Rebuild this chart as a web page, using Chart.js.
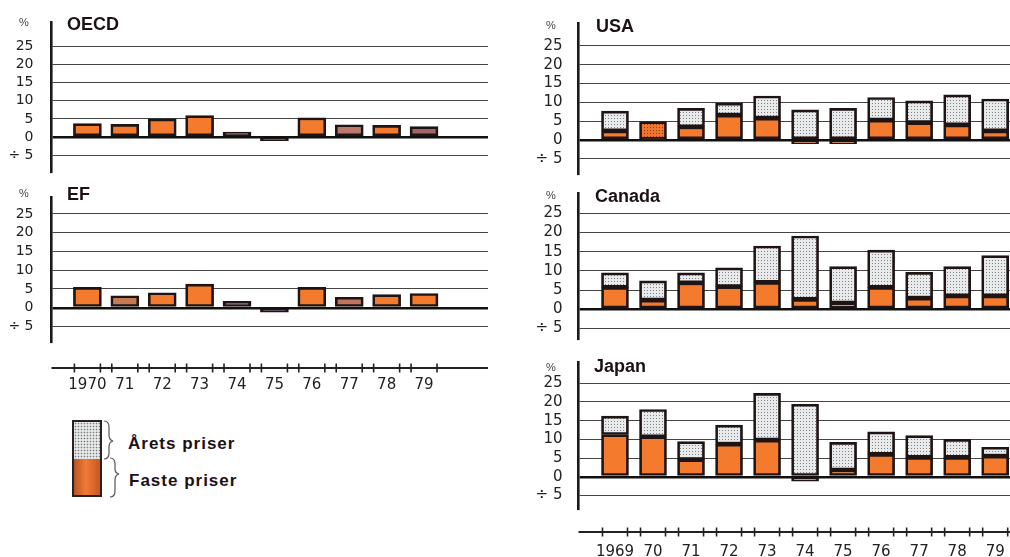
<!DOCTYPE html>
<html><head><meta charset="utf-8">
<script src="https://cdn.jsdelivr.net/npm/chart.js@4.4.1/dist/chart.umd.min.js"></script>
<style>
html,body{margin:0;padding:0;background:#fff}
body{position:relative;width:1010px;height:557px;overflow:hidden;font-family:"Liberation Sans",Arial,sans-serif}
canvas{position:absolute}
.t{position:absolute;font-weight:bold;font-size:18px;line-height:18px;color:#1c1216;white-space:nowrap}
.p{position:absolute;font-family:"Liberation Sans",Arial,sans-serif;font-size:11px;line-height:11px;color:#444;transform:translate(-50%,-50%)}
.lg{position:absolute;font-weight:bold;font-size:17px;line-height:17px;letter-spacing:1px;color:#1c1216;white-space:nowrap}
#sw{position:absolute;left:72px;top:420px;width:26px;height:73px;border:2px solid #2a2020}
#swTop{height:37px;background-color:#e8eaea;background-image:radial-gradient(circle,#7c7c7c 0.7px,transparent 1.1px);background-size:3px 3px}
#swBot{height:36px;background:linear-gradient(to right,#b85424,#f07a38 45%,#e06a2c 70%,#c05a28)}
</style></head><body>
<canvas id="cOECD"></canvas>
<canvas id="cEF"></canvas>
<canvas id="cUSA"></canvas>
<canvas id="cCAN"></canvas>
<canvas id="cJAP"></canvas>

<div class="t" style="left:67px;top:15px">OECD</div>
<div class="t" style="left:67px;top:185px">EF</div>
<div class="t" style="left:596px;top:17px">USA</div>
<div class="t" style="left:595px;top:187px">Canada</div>
<div class="t" style="left:594px;top:357px">Japan</div>

<div class="p" style="left:24px;top:22px">%</div>
<div class="p" style="left:24px;top:193px">%</div>
<div class="p" style="left:551px;top:25px">%</div>
<div class="p" style="left:551px;top:195px">%</div>
<div class="p" style="left:551px;top:367px">%</div>

<div id="sw"><div id="swTop"></div><div id="swBot"></div></div>
<svg style="position:absolute;left:100px;top:415px" width="24" height="90">
  <path d="M4,6 Q9,6 9,12 L9,20 Q9,25 13,26 Q9,27 9,32 L9,38 Q9,44 4,44" fill="none" stroke="#555" stroke-width="1.2"/>
  <path d="M10,43 Q15,43 15,49 L15,54 Q15,58 19,59 Q15,60 15,65 L15,76 Q15,82 10,82" fill="none" stroke="#555" stroke-width="1.2"/>
</svg>
<div class="lg" style="left:128px;top:435px">Årets priser</div>
<div class="lg" style="left:129px;top:472px">Faste priser</div>

<script>
// ---- data ----
const yearsLeft = [1970,1971,1972,1973,1974,1975,1976,1977,1978,1979];
const yearsRight = [1969,1970,1971,1972,1973,1974,1975,1976,1977,1978,1979];
const tickLabelsLeft = ['1970','71','72','73','74','75','76','77','78','79'];
const tickLabelsRight = ['1969','70','71','72','73','74','75','76','77','78','79'];
const yTickValues = [-5,0,5,10,15,20,25];
const yTickLabels = ['÷ 5','0','5','10','15','20','25'];

const oecdFaste = [3.7,3.5,5.0,5.9,1.4,-1.0,5.3,3.4,3.2,2.9];
const efFaste   = [5.4,3.2,4.0,6.3,1.7,-1.2,5.4,2.8,3.5,3.8];

const usaFaste = [2.4,0.2,3.5,6.6,5.8,-1.0,-1.0,5.3,4.6,4.0,2.4];
const usaArets = [7.7,4.9,8.4,9.8,11.7,8.0,8.4,11.3,10.4,12.0,10.9];
const canFaste = [5.7,2.4,6.9,5.9,7.0,2.6,1.6,5.7,2.9,3.5,3.5];
const canArets = [9.5,7.4,9.5,10.8,16.5,19.1,11.1,15.4,9.6,11.1,14.0];
const japFaste = [11.3,10.7,4.6,8.7,9.8,-1.2,1.8,6.0,5.2,5.2,5.5];
const japArets = [16.2,18.0,9.4,13.8,22.3,19.4,9.2,12.0,11.0,10.0,7.9];

// ---- styles ----
const ORANGE = '#f47b2e';
function dotPattern(bg, dot){
  const c=document.createElement('canvas'); c.width=3; c.height=3;
  const x=c.getContext('2d'); x.fillStyle=bg; x.fillRect(0,0,3,3);
  x.fillStyle=dot; x.fillRect(1,1,1,1);
  return x.createPattern(c,'repeat');
}
const DOTS = dotPattern('#e8eaeb','#7e8080');
const ODOTS = dotPattern('#ee7430','#8a3c20');
const oecdFill = [ORANGE,ORANGE,ORANGE,ORANGE,'#5e2430','#472a3c',ORANGE,'#b97a6c',ORANGE,'#a3646a'];
const efFill   = [ORANGE,'#c77a56',ORANGE,ORANGE,'#6e3a3a','#3e2c48',ORANGE,'#c0745e',ORANGE,ORANGE];
const usaAretsFill = yearsRight.map(y => y===1970 ? ODOTS : DOTS);

Chart.defaults.font.family = '"DejaVu Sans", sans-serif';

const panels = [
  {id:'cOECD', left:0, top:0, w:500, h:186, areaLeft:51.5, areaTop:22, areaBottom:173, areaRight:488,
   yMin:-9.9, yMax:31.7, xMin:1969.04, xMax:1980.71, years:yearsLeft, faste:oecdFaste, fasteFill:oecdFill,
   arets:null, barW:28, xLabels:null, fs:14, yPad:18},
  {id:'cEF', left:0, top:180, w:500, h:220, areaLeft:51.5, areaTop:197, areaBottom:343, areaRight:488,
   yMin:-9.4, yMax:29.5, xMin:1969.04, xMax:1980.71, years:yearsLeft, faste:efFaste, fasteFill:efFill,
   arets:null, barW:28, xLabels:tickLabelsLeft, fs:14, yPad:18, stripY:368, xPad:33},
  {id:'cUSA', left:520, top:0, w:490, h:188, areaLeft:578.5, areaTop:23, areaBottom:175, areaRight:1010,
   yMin:-9.3, yMax:31.1, xMin:1968.04, xMax:1979.39, years:yearsRight, faste:usaFaste, fasteFill:ORANGE,
   arets:usaArets, aretsFill:usaAretsFill, barW:27, xLabels:null, fs:15, yPad:16},
  {id:'cCAN', left:520, top:178, w:490, h:175, areaLeft:578.5, areaTop:193, areaBottom:340, areaRight:1010,
   yMin:-8.0, yMax:30.3, xMin:1968.04, xMax:1979.39, years:yearsRight, faste:canFaste, fasteFill:ORANGE,
   arets:canArets, aretsFill:DOTS, barW:27, xLabels:null, fs:15, yPad:16},
  {id:'cJAP', left:520, top:345, w:490, h:212, areaLeft:578.5, areaTop:362, areaBottom:510, areaRight:1010,
   yMin:-8.9, yMax:30.7, xMin:1968.04, xMax:1979.39, years:yearsRight, faste:japFaste, fasteFill:ORANGE,
   arets:japArets, aretsFill:DOTS, barW:27, xLabels:tickLabelsRight, fs:15, yPad:16, stripY:532, xPad:33}
];

function stripPlugin(p){
  return {id:'strip', afterDraw(chart){
    if(!p.stripY) return;
    const ctx=chart.ctx, xs=chart.scales.x, a=chart.chartArea, y=p.stripY-p.top;
    ctx.save(); ctx.strokeStyle='#222';
    ctx.lineWidth=2; ctx.beginPath(); ctx.moveTo(a.left,y); ctx.lineTo(a.right,y); ctx.stroke();
    ctx.lineWidth=1.6;
    p.years.forEach(v=>{
      const c=xs.getPixelForValue(v);
      [c-p.barW/2+1, c+p.barW/2-1].forEach(t=>{ctx.beginPath();ctx.moveTo(t,y-4.5);ctx.lineTo(t,y+4.5);ctx.stroke();});
    });
    ctx.restore();
  }};
}

const CLEAR='rgba(0,0,0,0)';
function build(p){
  const cv=document.getElementById(p.id);
  cv.width=p.w; cv.height=p.h;
  cv.style.left=p.left+'px'; cv.style.top=p.top+'px';
  cv.style.width=p.w+'px'; cv.style.height=p.h+'px';
  const datasets=[{
    data:p.years.map((x,i)=>({x:x, y:[0,p.faste[i]]})),
    backgroundColor:p.fasteFill
  }];
  if(p.arets){
    datasets.push({
      data:p.years.map((x,i)=>({x:x, y:[Math.max(p.faste[i],0),p.arets[i]]})),
      backgroundColor:p.aretsFill
    });
  }
  new Chart(cv,{
    type:'bar',
    data:{datasets},
    plugins:[stripPlugin(p)],
    options:{
      responsive:false, animation:false, devicePixelRatio:1,
      layout:{padding:{left:0, right:(p.left+p.w)-p.areaRight, top:p.areaTop-p.top, bottom:0}},
      plugins:{legend:{display:false}, tooltip:{enabled:false}, title:{display:false}},
      datasets:{bar:{grouped:false, barThickness:p.barW, borderWidth:2.7, borderColor:'#1e1414', borderSkipped:false}},
      scales:{
        x:{type:'linear', offset:false, min:p.xMin, max:p.xMax,
           grid:{display:false, drawTicks:true, tickLength:p.xPad||0, tickColor:CLEAR, offset:false}, border:{display:false},
           afterBuildTicks:s=>{s.ticks=p.years.map(v=>({value:v}));},
           afterFit:s=>{s.height=(p.top+p.h)-p.areaBottom;},
           ticks:{display:!!p.xLabels, autoSkip:false, maxRotation:0, minRotation:0, padding:0,
                  font:{size:15}, color:'#222', callback:(v,i)=>p.xLabels?p.xLabels[i]:''}},
        y:{min:p.yMin, max:p.yMax,
           afterBuildTicks:s=>{s.ticks=yTickValues.map(v=>({value:v}));},
           afterFit:s=>{s.width=p.areaLeft-p.left;},
           grid:{drawTicks:true, tickLength:p.yPad, tickColor:CLEAR,
                 color:c=>(c.tick&&c.tick.value===0)?'#111':'#444',
                 lineWidth:c=>(c.tick&&c.tick.value===0)?2.4:1.1},
           border:{display:true, color:'#1a1a1a', width:2.6},
           ticks:{padding:0, font:{size:p.fs}, color:'#222', callback:(v,i)=>yTickLabels[i]}}
      }
    }
  });
}
panels.forEach(build);
</script>
</body></html>
